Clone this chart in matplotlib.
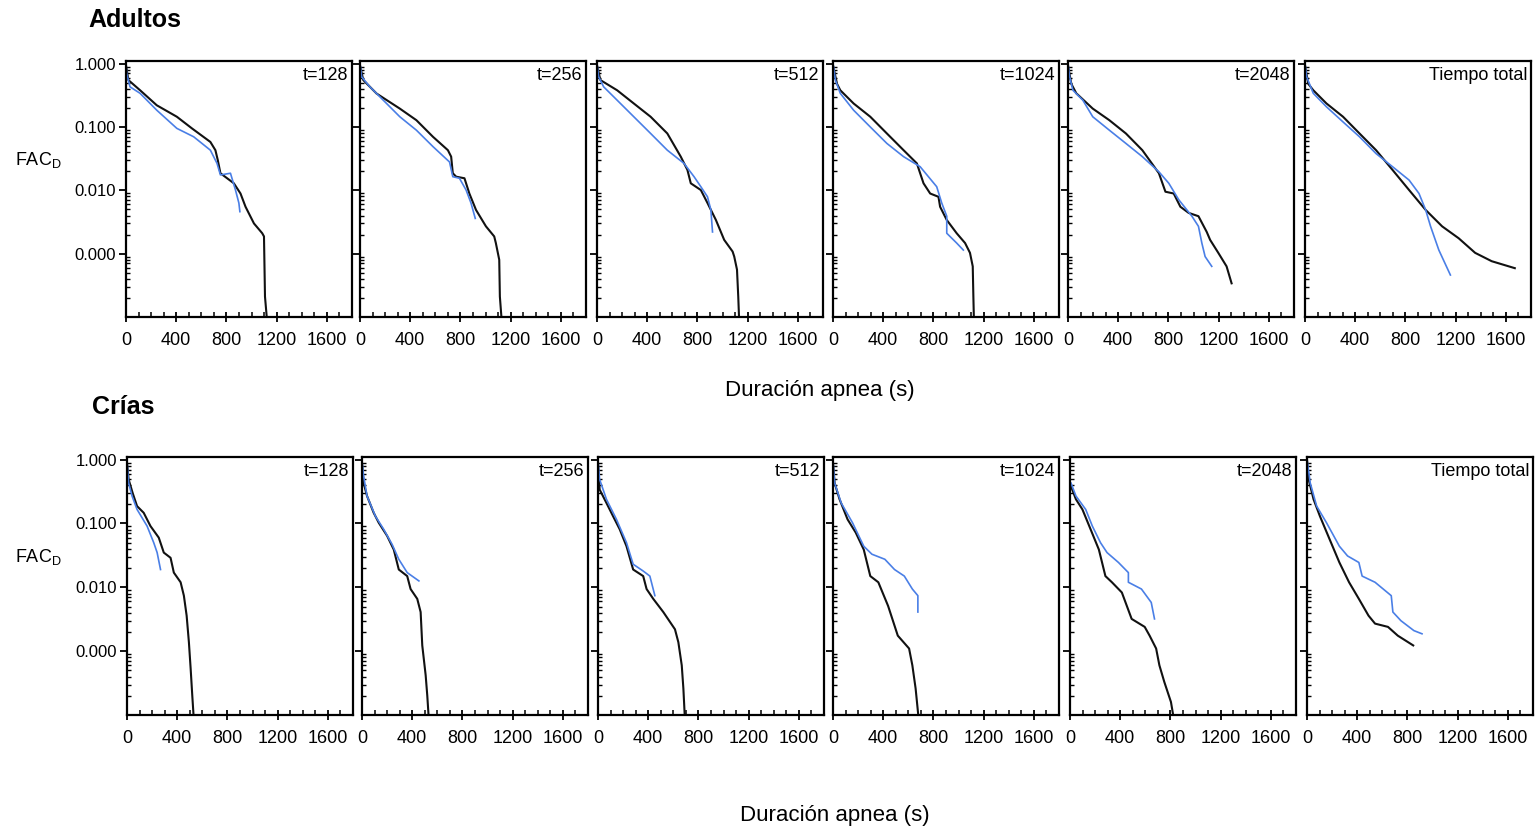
import matplotlib
matplotlib.use("Agg")
import matplotlib.pyplot as plt
from matplotlib.ticker import FixedLocator, LogLocator, MultipleLocator, NullFormatter, FixedFormatter

plt.rcParams['font.family'] = ['Liberation Sans Narrow', 'Liberation Sans', 'DejaVu Sans']

# Panel titles
labels = ["t=128", "t=256", "t=512", "t=1024", "t=2048", "Tiempo total"]
ytick_vals = [1.0, 0.1, 0.01, 0.001]
ytick_text = ["1.000", "0.100", "0.010", "0.000"]
xtick_vals = [0, 400, 800, 1200, 1600]

# ---- Adultos (top row): black and blue curves, x in s, y = FAC
a128_k_x = [0, 19, 112, 245, 405, 525, 672, 712, 731, 752, 859, 912, 952, 1019, 1085, 1099, 1107, 1125]
a128_k_y = [0.94, 0.55, 0.38, 0.22, 0.145, 0.095, 0.058, 0.043, 0.030, 0.0186, 0.0129, 0.0089, 0.0055, 0.0030, 0.0021, 0.00187, 0.00021, 0.00008]
a128_b_x = [0, 5, 32, 112, 245, 405, 539, 672, 725, 752, 832, 872, 899, 907]
a128_b_y = [1.0, 0.70, 0.43, 0.34, 0.184, 0.095, 0.070, 0.043, 0.0266, 0.0175, 0.0186, 0.0101, 0.0063, 0.0046]

a256_k_x = [0, 26, 132, 317, 449, 581, 700, 726, 739, 766, 832, 871, 924, 1003, 1069, 1082, 1109, 1114, 1130]
a256_k_y = [0.94, 0.55, 0.337, 0.195, 0.128, 0.070, 0.043, 0.034, 0.0186, 0.0164, 0.0155, 0.0089, 0.0049, 0.0027, 0.00187, 0.00147, 0.0008, 0.00021, 0.00008]
a256_b_x = [0, 13, 79, 185, 317, 449, 581, 713, 739, 792, 845, 884, 918]
a256_b_y = [1.0, 0.62, 0.43, 0.265, 0.145, 0.089, 0.049, 0.028, 0.0164, 0.0155, 0.0101, 0.0063, 0.0036]

a512_k_x = [0, 27, 160, 293, 427, 560, 667, 720, 747, 827, 880, 947, 1013, 1080, 1093, 1115, 1125, 1133]
a512_k_y = [0.94, 0.55, 0.38, 0.235, 0.145, 0.079, 0.034, 0.021, 0.0129, 0.0101, 0.0063, 0.0034, 0.00165, 0.00108, 0.0009, 0.00056, 0.00021, 0.00008]
a512_b_x = [0, 13, 53, 160, 293, 427, 560, 693, 773, 827, 880, 907, 920]
a512_b_y = [1.0, 0.62, 0.43, 0.265, 0.145, 0.079, 0.043, 0.0266, 0.0164, 0.0114, 0.0079, 0.0049, 0.0022]

a1024_k_x = [0, 32, 58, 164, 297, 429, 562, 668, 694, 721, 774, 840, 853, 906, 985, 1052, 1091, 1113, 1118, 1123]
a1024_k_y = [0.94, 0.48, 0.38, 0.235, 0.145, 0.079, 0.043, 0.0266, 0.0186, 0.0129, 0.0089, 0.0079, 0.0055, 0.0034, 0.0021, 0.00147, 0.00103, 0.00063, 0.00021, 0.00008]
a1024_b_x = [0, 19, 58, 164, 297, 429, 562, 694, 826, 866, 906, 906, 985, 1038]
a1024_b_y = [1.0, 0.55, 0.34, 0.184, 0.1, 0.055, 0.034, 0.0236, 0.0114, 0.0063, 0.0039, 0.0021, 0.00147, 0.00114]

a2048_k_x = [0, 26, 66, 197, 329, 461, 592, 724, 776, 842, 895, 961, 1039, 1105, 1132, 1197, 1263, 1303]
a2048_k_y = [0.94, 0.48, 0.34, 0.195, 0.128, 0.079, 0.043, 0.0186, 0.0095, 0.0089, 0.0055, 0.0044, 0.0039, 0.0022, 0.00165, 0.00103, 0.00063, 0.00034]
a2048_b_x = [0, 13, 39, 118, 197, 329, 461, 592, 724, 803, 882, 987, 1039, 1066, 1092, 1145]
a2048_b_y = [1.0, 0.62, 0.38, 0.265, 0.145, 0.089, 0.055, 0.034, 0.0196, 0.0129, 0.0071, 0.0039, 0.0027, 0.00147, 0.0009, 0.00063]

atot_k_x = [0, 26, 66, 171, 303, 434, 566, 697, 829, 961, 1092, 1224, 1355, 1487, 1671]
atot_k_y = [0.94, 0.48, 0.38, 0.235, 0.145, 0.079, 0.043, 0.021, 0.0101, 0.0049, 0.0027, 0.00175, 0.00103, 0.00076, 0.00059]
atot_b_x = [0, 13, 66, 171, 303, 434, 566, 697, 829, 908, 961, 1000, 1066, 1158]
atot_b_y = [1.0, 0.62, 0.34, 0.208, 0.12, 0.07, 0.038, 0.0236, 0.0145, 0.0089, 0.0049, 0.0027, 0.00114, 0.00046]

# ---- Crías (bottom row)
c128_k_x = [0, 13, 45, 80, 133, 187, 253, 293, 347, 373, 427, 453, 475, 493, 507, 520, 533]
c128_k_y = [0.89, 0.49, 0.30, 0.187, 0.147, 0.091, 0.06, 0.035, 0.029, 0.017, 0.012, 0.0074, 0.0036, 0.00138, 0.00053, 0.0002, 0.00008]
c128_b_x = [0, 13, 40, 80, 160, 213, 240, 267]
c128_b_y = [0.94, 0.43, 0.27, 0.166, 0.091, 0.05, 0.035, 0.019]

c256_k_x = [0, 13, 40, 93, 133, 200, 253, 293, 360, 387, 440, 467, 480, 507, 520, 533]
c256_k_y = [0.89, 0.43, 0.27, 0.147, 0.103, 0.064, 0.039, 0.019, 0.015, 0.0094, 0.0066, 0.0041, 0.00123, 0.00042, 0.0002, 0.00008]
c256_b_x = [0, 13, 40, 107, 173, 240, 293, 360, 453]
c256_b_y = [0.94, 0.55, 0.27, 0.13, 0.081, 0.047, 0.0275, 0.017, 0.0126]

c512_k_x = [0, 13, 67, 120, 173, 227, 280, 360, 387, 440, 520, 613, 640, 667, 680, 693]
c512_k_y = [0.89, 0.34, 0.21, 0.13, 0.081, 0.044, 0.019, 0.015, 0.0094, 0.0066, 0.0041, 0.0022, 0.00138, 0.0006, 0.00026, 0.00008]
c512_b_x = [0, 13, 67, 147, 227, 280, 360, 413, 453]
c512_b_y = [0.94, 0.49, 0.24, 0.116, 0.05, 0.023, 0.018, 0.015, 0.0074]

c1024_k_x = [0, 13, 52, 116, 181, 245, 297, 361, 439, 516, 606, 632, 658, 684]
c1024_k_y = [0.89, 0.43, 0.24, 0.116, 0.072, 0.039, 0.015, 0.012, 0.0051, 0.00175, 0.0011, 0.0006, 0.00026, 0.00008]
c1024_b_x = [0, 13, 65, 155, 245, 310, 413, 490, 568, 632, 676, 676]
c1024_b_y = [0.94, 0.43, 0.21, 0.103, 0.044, 0.033, 0.0275, 0.019, 0.015, 0.0094, 0.0074, 0.0041]

c2048_k_x = [8, 47, 99, 164, 230, 282, 334, 413, 491, 595, 634, 686, 712, 751, 804, 830]
c2048_k_y = [0.38, 0.24, 0.166, 0.081, 0.039, 0.015, 0.012, 0.0083, 0.0032, 0.0024, 0.00175, 0.0011, 0.0006, 0.00033, 0.00016, 0.00008]
c2048_b_x = [8, 47, 125, 178, 243, 295, 386, 465, 465, 569, 647, 673]
c2048_b_y = [0.43, 0.27, 0.166, 0.091, 0.05, 0.035, 0.0245, 0.017, 0.012, 0.0094, 0.0058, 0.0032]

ctot_k_x = [0, 13, 52, 103, 181, 258, 335, 413, 490, 542, 645, 723, 846]
ctot_k_y = [1.0, 0.49, 0.24, 0.13, 0.056, 0.0245, 0.012, 0.0066, 0.0036, 0.0027, 0.0024, 0.00175, 0.00123]
ctot_b_x = [0, 26, 77, 155, 258, 323, 413, 439, 542, 671, 684, 748, 851, 916]
ctot_b_y = [1.0, 0.43, 0.187, 0.103, 0.044, 0.031, 0.0245, 0.015, 0.012, 0.0074, 0.0041, 0.003, 0.0021, 0.00187]

adult_black = [(a128_k_x, a128_k_y), (a256_k_x, a256_k_y), (a512_k_x, a512_k_y),
               (a1024_k_x, a1024_k_y), (a2048_k_x, a2048_k_y), (atot_k_x, atot_k_y)]
adult_blue = [(a128_b_x, a128_b_y), (a256_b_x, a256_b_y), (a512_b_x, a512_b_y),
              (a1024_b_x, a1024_b_y), (a2048_b_x, a2048_b_y), (atot_b_x, atot_b_y)]
cria_black = [(c128_k_x, c128_k_y), (c256_k_x, c256_k_y), (c512_k_x, c512_k_y),
              (c1024_k_x, c1024_k_y), (c2048_k_x, c2048_k_y), (ctot_k_x, ctot_k_y)]
cria_blue = [(c128_b_x, c128_b_y), (c256_b_x, c256_b_y), (c512_b_x, c512_b_y),
             (c1024_b_x, c1024_b_y), (c2048_b_x, c2048_b_y), (ctot_b_x, ctot_b_y)]

BLACK = "#111111"
BLUE = "#4a7fe6"

W, H = 1537, 830
fig = plt.figure(figsize=(W / 100, H / 100), dpi=100)


def draw_row(lefts, top_px, bot_px, blacks, blues):
    for i, left in enumerate(lefts):
        ax = fig.add_axes([left / W, 1 - bot_px / H, 226 / W, (bot_px - top_px) / H])
        ax.plot(blacks[i][0], blacks[i][1], color=BLACK, lw=1.5)
        ax.plot(blues[i][0], blues[i][1], color=BLUE, lw=1.2)
        ax.set_yscale("log")
        ax.set_ylim(1e-4, 1.1)
        ax.set_xlim(0, 1800)
        ax.yaxis.set_major_locator(FixedLocator(ytick_vals))
        ax.yaxis.set_minor_locator(LogLocator(base=10, subs=range(2, 10)))
        ax.yaxis.set_minor_formatter(NullFormatter())
        if i == 0:
            ax.yaxis.set_major_formatter(FixedFormatter(ytick_text))
        else:
            ax.yaxis.set_major_formatter(NullFormatter())
        ax.xaxis.set_major_locator(FixedLocator(xtick_vals))
        ax.xaxis.set_minor_locator(MultipleLocator(100))
        ax.tick_params(axis="y", which="major", direction="out", length=5, width=1.3, labelsize=12, pad=2)
        ax.tick_params(axis="y", which="minor", direction="in", length=3, width=1.0)
        ax.tick_params(axis="x", which="major", direction="inout", length=7, width=1.3, labelsize=13, pad=7)
        ax.tick_params(axis="x", which="minor", direction="in", length=3.5, width=1.1)
        for sp in ax.spines.values():
            sp.set_linewidth(1.6)
        ax.text(0.985, 0.975, labels[i], transform=ax.transAxes, ha="right", va="top", fontsize=13)


draw_row([126, 360, 597, 833, 1068, 1305], 61, 317, adult_black, adult_blue)
draw_row([127, 362, 598, 833, 1070, 1307], 457, 715, cria_black, cria_blue)

fig.text(88 / W, 1 - 20 / H, "Adultos", fontsize=18, fontweight="bold", va="center", ha="left")
fig.text(92 / W, 1 - 407 / H, "Crías", fontsize=18, fontweight="bold", va="center", ha="left")
fig.text(15 / W, 1 - 160 / H, r"FAC$_\mathregular{D}$", fontsize=13, va="center", ha="left")
fig.text(15 / W, 1 - 557 / H, r"FAC$_\mathregular{D}$", fontsize=13, va="center", ha="left")
fig.text(820 / W, 1 - 390 / H, "Duración apnea (s)", fontsize=16, va="center", ha="center")
fig.text(835 / W, 1 - 815 / H, "Duración apnea (s)", fontsize=16, va="center", ha="center")

fig.savefig("out.png", dpi=100)
